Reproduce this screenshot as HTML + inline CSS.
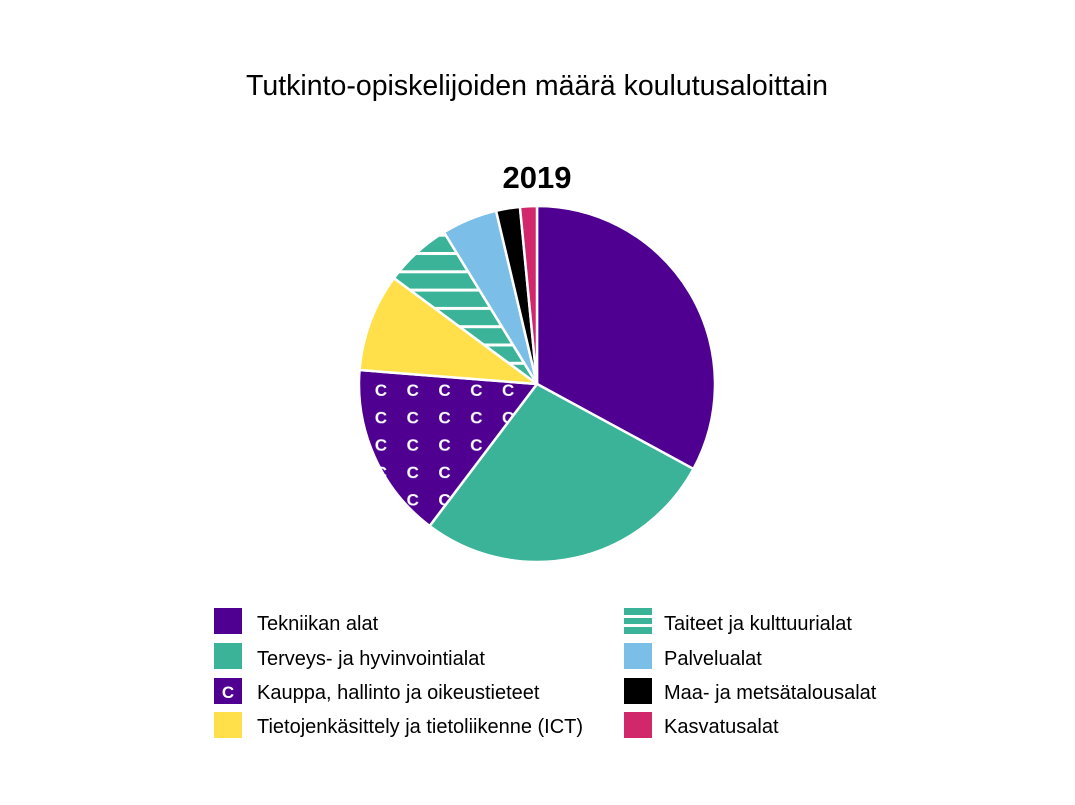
<!DOCTYPE html>
<html><head><meta charset="utf-8"><style>
body{margin:0;background:#fff;width:1075px;height:800px;overflow:hidden;font-family:"Liberation Sans",sans-serif}
</style></head><body>
<svg id="s" width="1075" height="800" xmlns="http://www.w3.org/2000/svg">
<defs>
<pattern id="cp" patternUnits="userSpaceOnUse" x="365" y="376" width="31.8" height="27.4">
<rect width="32" height="28" fill="#4f0090"/>
<text x="16" y="20" font-family="Liberation Sans" font-size="17" font-weight="bold" fill="#fff" text-anchor="middle">C</text>
</pattern>
<pattern id="hp" patternUnits="userSpaceOnUse" x="0" y="252" width="20" height="18.3">
<rect width="20" height="19" fill="#3ab399"/>
<rect y="0" width="20" height="3" fill="#fff"/>
</pattern>
</defs>
<text x="537" y="95" font-size="28.5" text-anchor="middle" fill="#000">Tutkinto-opiskelijoiden määrä koulutusaloittain</text>
<text x="537" y="188" font-size="31" font-weight="bold" text-anchor="middle" fill="#000">2019</text>
<g id="pie"></g>
<g font-size="20" fill="#000">
<rect x="214" y="608" width="28" height="26" fill="#4f0090"/><text x="257" y="630">Tekniikan alat</text>
<rect x="214" y="643" width="28" height="26" fill="#3ab399"/><text x="257" y="665">Terveys- ja hyvinvointialat</text>
<rect x="214" y="678" width="28" height="26" fill="#4f0090"/><text x="228" y="698" fill="#fff" font-size="17" font-weight="bold" text-anchor="middle">C</text><text x="257" y="699">Kauppa, hallinto ja oikeustieteet</text>
<rect x="214" y="712" width="28" height="26" fill="#ffe04a"/><text x="257" y="733">Tietojenkäsittely ja tietoliikenne (ICT)</text>
<rect x="624" y="608" width="28" height="26" fill="#3ab399"/>
<rect x="624" y="615" width="28" height="3" fill="#fff"/><rect x="624" y="624" width="28" height="3" fill="#fff"/>
<text x="664" y="630">Taiteet ja kulttuurialat</text>
<rect x="624" y="643" width="28" height="26" fill="#7bbfe9"/><text x="664" y="665">Palvelualat</text>
<rect x="624" y="678" width="28" height="26" fill="#000"/><text x="664" y="699">Maa- ja metsätalousalat</text>
<rect x="624" y="712" width="28" height="26" fill="#d1286b"/><text x="664" y="733">Kasvatusalat</text>
</g>
</svg>
<script>
var cx=537,cy=384,r=178;
var sl=[[0,118.5,"#4f0090"],[118.5,217.1,"#3ab399"],[217.1,274.5,"url(#cp)"],[274.5,306.5,"#ffe04a"],[306.5,328.5,"url(#hp)"],[328.5,346.7,"#7bbfe9"],[346.7,354.5,"#000"],[354.5,360,"#d1286b"]];
function pt(a){a=a*Math.PI/180;return [cx+r*Math.sin(a),cy-r*Math.cos(a)];}
var h="";
sl.forEach(function(s){var p=pt(s[0]),q=pt(s[1]);var l=(s[1]-s[0])>180?1:0;
h+='<path d="M'+cx+','+cy+' L'+p[0]+','+p[1]+' A'+r+','+r+' 0 '+l+' 1 '+q[0]+','+q[1]+' Z" fill="'+s[2]+'" stroke="#fff" stroke-width="2.5" stroke-linejoin="round"/>';});
document.getElementById("pie").innerHTML=h;
</script>
</body></html>
